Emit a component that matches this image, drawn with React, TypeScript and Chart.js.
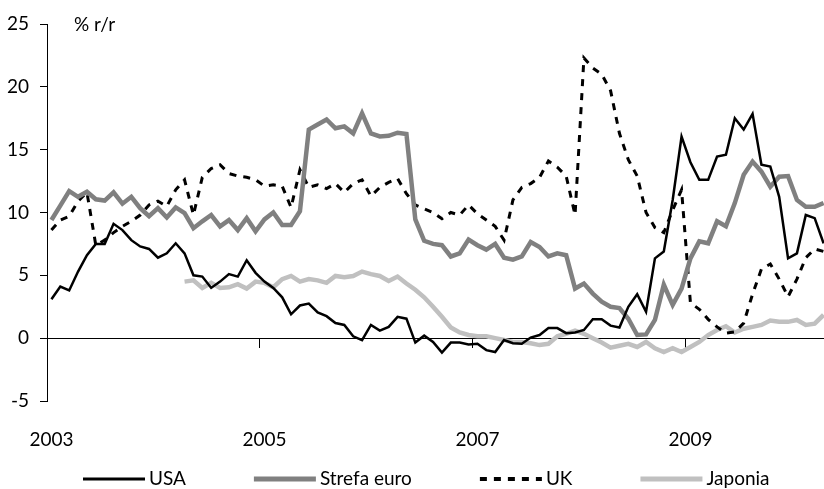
import { useEffect, useRef } from 'react';
import { Chart, registerables } from 'chart.js';

Chart.register(...registerables);

const FONT = "Lato, 'Liberation Sans', sans-serif";
const FONT_SIZE = 19;

// months: index 0 = Jan 2003 ... index 87 = Apr 2010
const months: number[] = Array.from({ length: 88 }, (_, i) => i);
const yearTicks = ['2003', '2005', '2007', '2009'];
const yearTickMonths = [0, 24, 48, 72];
const unitLabel = '% r/r';

const seriesNames = ['USA', 'Strefa euro', 'UK', 'Japonia'];

const usa = [
  3.1, 4.1, 3.8, 5.3, 6.6, 7.5, 7.5, 9.1, 8.6, 7.8,
  7.3, 7.1, 6.4, 6.75, 7.55, 6.75, 5.0, 4.9, 4.0, 4.5,
  5.1, 4.9, 6.2, 5.2, 4.5, 4.0, 3.25, 1.9, 2.6, 2.75,
  2.05, 1.75, 1.2, 1.05, 0.15, -0.15, 1.05, 0.6, 0.9, 1.7,
  1.55, -0.35, 0.2, -0.3, -1.15, -0.35, -0.35, -0.5, -0.45, -0.95,
  -1.1, -0.15, -0.4, -0.45, 0.05, 0.25, 0.8, 0.8, 0.4, 0.45,
  0.65, 1.5, 1.5, 1.0, 0.85, 2.5, 3.5, 2.1, 6.35, 6.9,
  11.0, 16.05, 14.0, 12.6, 12.6, 14.45, 14.6, 17.5, 16.6, 17.85,
  13.8, 13.65, 11.25, 6.35, 6.75, 9.8, 9.55, 7.55,
];

const euro = [
  9.4, 10.55, 11.7, 11.25, 11.65, 11.05, 10.95, 11.6, 10.7, 11.25,
  10.35, 9.7, 10.35, 9.6, 10.4, 9.95, 8.75, 9.3, 9.8, 8.9,
  9.4, 8.6, 9.55, 8.5, 9.45, 10.0, 9.0, 9.0, 10.1, 16.6,
  17.0, 17.4, 16.7, 16.85, 16.3, 17.9, 16.3, 16.05, 16.1, 16.35,
  16.25, 9.45, 7.75, 7.5, 7.4, 6.5, 6.75, 7.85, 7.4, 7.05,
  7.5, 6.4, 6.25, 6.5, 7.65, 7.25, 6.5, 6.75, 6.6, 3.95,
  4.35, 3.55, 2.9, 2.5, 2.4, 1.55, 0.25, 0.3, 1.45, 4.25,
  2.65, 3.95, 6.35, 7.7, 7.55, 9.3, 8.9, 10.75, 13.0, 14.05,
  13.25, 12.05, 12.85, 12.9, 11.0, 10.45, 10.45, 10.75,
];

const uk = [
  8.6, 9.4, 9.7, 10.9, 11.6, 7.4, 7.8, 8.4, 8.9, 9.3,
  9.8, 10.6, 10.9, 10.5, 11.8, 12.6, 9.8, 12.8, 13.5, 13.8,
  13.1, 12.9, 12.8, 12.6, 12.1, 12.2, 12.1, 10.4, 13.4, 12.0,
  12.2, 11.9, 12.3, 11.6, 12.3, 12.6, 11.3, 12.0, 12.4, 12.7,
  11.5, 10.6, 10.3, 10.0, 9.5, 10.0, 9.8, 10.6, 9.9, 9.4,
  8.9, 7.8, 11.0, 12.0, 12.3, 12.8, 14.1, 13.6, 12.9, 9.8,
  22.3, 21.5, 21.0, 19.7, 16.3, 14.2, 12.9, 10.0, 8.8, 8.4,
  10.2, 11.8, 2.8, 2.3, 1.5, 0.9, 0.4, 0.5, 1.2, 3.5,
  5.5, 5.9, 4.7, 3.3, 4.7, 6.4, 7.1, 6.9,
];

const japan = [
  null, null, null, null, null, null, null, null, null, null,
  null, null, null, null, null, 4.5, 4.6, 4.0, 4.4, 4.0,
  4.05, 4.3, 3.95, 4.5, 4.4, 4.05, 4.7, 4.95, 4.5, 4.7,
  4.6, 4.4, 4.95, 4.85, 4.95, 5.3, 5.1, 4.95, 4.55, 4.9,
  4.35, 3.85, 3.25, 2.5, 1.7, 0.85, 0.45, 0.25, 0.15, 0.15,
  0.0, -0.15, -0.3, -0.3, -0.4, -0.55, -0.45, 0.15, 0.35, 0.6,
  0.35, 0.0, -0.35, -0.75, -0.6, -0.45, -0.7, -0.3, -0.8, -1.1,
  -0.8, -1.1, -0.7, -0.3, 0.25, 0.65, 0.95, 0.45, 0.75, 0.9,
  1.05, 1.4, 1.3, 1.3, 1.45, 1.05, 1.15, 1.85,
];

const colors = ['#000000', '#808080', '#000000', '#c0c0c0'];
const lineWidths = [2.5, 4.5, 3, 4.5];
const legendLineWidths = [3, 5, 4, 5];
const dashes: number[][] = [[], [], [7, 7], []];

const fontString = `${FONT_SIZE}px ${FONT}`;

export default function App() {
  const ref = useRef<HTMLCanvasElement>(null);

  useEffect(() => {
    if (!ref.current) return;

    const unitPlugin = {
      id: 'unitLabel',
      afterDraw(chart: any) {
        const { ctx, chartArea } = chart;
        ctx.save();
        ctx.font = fontString;
        ctx.fillStyle = '#000';
        ctx.textAlign = 'left';
        ctx.textBaseline = 'middle';
        ctx.fillText(unitLabel, chartArea.left + 27, chartArea.top + 1);
        ctx.restore();
      },
    };

    const legendPlugin = {
      id: 'bottomLegend',
      afterDraw(chart: any) {
        const { ctx, chartArea } = chart;
        ctx.save();
        ctx.font = fontString;
        ctx.fillStyle = '#000';
        ctx.textAlign = 'left';
        ctx.textBaseline = 'middle';
        const y = 479;
        let x = chartArea.left + 36;
        chart.data.datasets.forEach((ds: any, i: number) => {
          ctx.save();
          ctx.strokeStyle = ds.borderColor;
          ctx.lineWidth = legendLineWidths[i];
          ctx.setLineDash(ds.borderDash || []);
          ctx.lineCap = 'butt';
          ctx.beginPath();
          ctx.moveTo(x, y);
          ctx.lineTo(x + 62, y);
          ctx.stroke();
          ctx.restore();
          ctx.fillText(ds.label, x + 66, y);
          x += 66 + ctx.measureText(ds.label).width + 68;
        });
        ctx.restore();
      },
    };

    const seriesData = [usa, euro, uk, japan];
    const tickFont = { family: FONT, size: FONT_SIZE };

    const chart = new Chart(ref.current, {
      type: 'line',
      data: {
        labels: months,
        datasets: seriesNames.map((name, i) => ({
          label: name,
          data: seriesData[i],
          borderColor: colors[i],
          backgroundColor: colors[i],
          borderWidth: lineWidths[i],
          borderDash: dashes[i],
          pointRadius: 0,
          pointHoverRadius: 0,
          tension: 0,
          fill: false,
          spanGaps: false,
        })),
      },
      options: {
        animation: false,
        responsive: false,
        events: [],
        layout: { padding: { top: 24, right: 0, bottom: 0, left: 0 } },
        plugins: {
          legend: { display: false },
          tooltip: { enabled: false },
          title: { display: false },
        },
        scales: {
          x: {
            type: 'linear',
            position: 'bottom',
            min: -0.5,
            max: 87.05,
            afterBuildTicks: (s: any) => {
              s.ticks = yearTickMonths.map((v) => ({ value: v }));
            },
            afterFit: (s: any) => {
              s.height = 88;
            },
            grid: { display: false, drawTicks: false },
            border: { display: false },
            ticks: {
              autoSkip: false,
              maxRotation: 0,
              padding: 27,
              color: '#000',
              font: tickFont,
              callback: (_v: any, idx: number) => yearTicks[idx],
            },
          },
          x2: {
            type: 'linear',
            axis: 'x',
            position: { y: 0 },
            min: -0.5,
            max: 87.05,
            afterBuildTicks: (s: any) => {
              s.ticks = yearTickMonths.map((v) => ({ value: v - 0.5 }));
            },
            grid: {
              drawOnChartArea: false,
              drawTicks: true,
              tickLength: 9,
              color: '#000',
              lineWidth: 1,
            },
            border: { display: true, color: '#000', width: 1 },
            ticks: { display: false },
          },
          y: {
            type: 'linear',
            position: 'left',
            min: -5,
            max: 25,
            afterFit: (s: any) => {
              s.width = 47;
            },
            ticks: {
              stepSize: 5,
              padding: 11,
              color: '#000',
              font: tickFont,
            },
            grid: {
              drawOnChartArea: false,
              drawTicks: true,
              tickLength: 7,
              color: '#000',
            },
            border: { display: true, color: '#000', width: 1 },
          },
        },
      } as any,
      plugins: [unitPlugin, legendPlugin],
    });

    return () => chart.destroy();
  }, []);

  return (
    <div style={{ position: 'absolute', left: 0, top: 0, width: 824, height: 489, background: '#fff' }}>
      <canvas ref={ref} width={824} height={489} style={{ display: 'block' }} />
    </div>
  );
}
